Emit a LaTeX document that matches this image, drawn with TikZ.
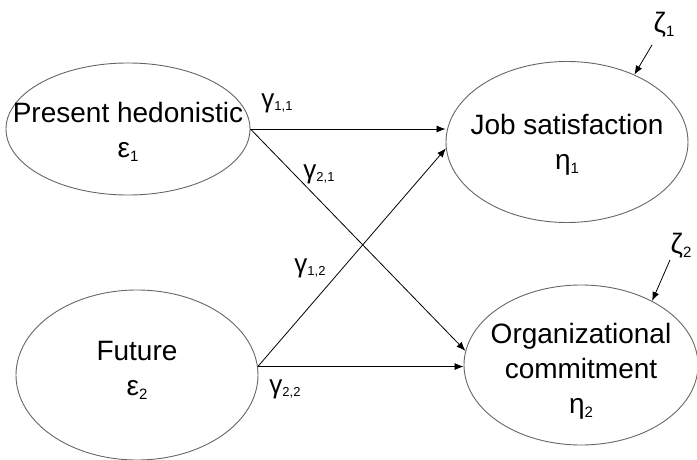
\documentclass[tikz,border=0pt]{standalone}
\usepackage{fontspec}
\setmainfont{Liberation Sans}
\usetikzlibrary{shapes.geometric,arrows.meta}

\newcommand{\latentsym}[2]{#1\raisebox{-4pt}{\fontsize{15}{15}\selectfont #2}}
\newcommand{\pathsym}[1]{{\fontsize{26}{26}\selectfont γ}\raisebox{-3pt}{\fontsize{13}{13}\selectfont #1}}

\begin{document}
\begin{tikzpicture}[x=1pt,y=-1pt,
        latent/.style={ellipse,draw=black!60,line width=0.9pt,inner sep=0pt},
        caption/.style={font=\fontsize{28}{35}\selectfont,align=center,inner sep=0pt},
        coef/.style={inner sep=0pt},
        >={Latex[length=9pt,width=7pt]}]
        \useasboundingbox (0,0) rectangle (697,460);

        \node[latent,minimum width=244pt,minimum height=132pt,
            label={[caption,yshift=-3pt]center:Present hedonistic\\\latentsym{ε}{1}}] (A) at (128,129) {};
        \node[latent,minimum width=242pt,minimum height=170pt,
            label={[caption,yshift=5pt]center:Future\\\latentsym{ε}{2}}] (B) at (137,375) {};
        \node[latent,minimum width=242pt,minimum height=161pt,
            label={[caption,yshift=-3pt]center:Job satisfaction\\\latentsym{η}{1}}] (C) at (567,142) {};
        \node[latent,minimum width=234pt,minimum height=160pt,
            label={[caption,yshift=-6pt]center:Organizational\\commitment\\\latentsym{η}{2}}] (D) at (581,365) {};

        \node[coef] (g11) at (277,103) {\pathsym{1,1}};
        \node[coef] (g21) at (319,174) {\pathsym{2,1}};
        \node[coef] (g12) at (310,268) {\pathsym{1,2}};
        \node[coef] (g22) at (285,389) {\pathsym{2,2}};

        \node[coef,font=\fontsize{28}{28}\selectfont] (z1) at (664,25) {\latentsym{ζ}{1}};
        \node[coef,font=\fontsize{28}{28}\selectfont] (z2) at (681,246) {\latentsym{ζ}{2}};
        \coordinate (z1tail) at (652,45);
        \coordinate (z2tail) at (670,260);

        \begin{scope}[every edge/.style={draw,line width=0.8pt}]
            \path [->] (A.east) edge (A.east -| C.west);
            \path [->] (A.east) edge (D.173);
            \path [->] (B.4) edge (C.183);
            \path [->] (B.4) edge (B.4 -| D.west);
            \path [->] (z1tail) edge (C.45);
            \path [->] (z2tail) edge (D.42);
        \end{scope}
    \end{tikzpicture}
\end{document}
